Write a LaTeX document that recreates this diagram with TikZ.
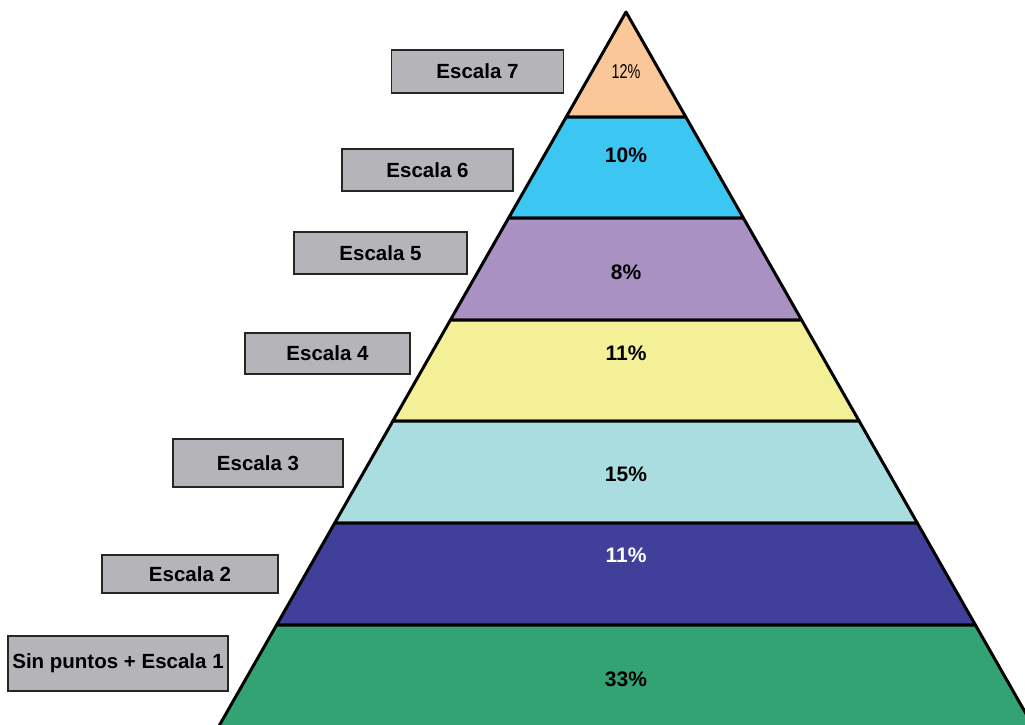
\documentclass[tikz,border=0pt]{standalone}
\usepackage{fontspec}
\usepackage{graphicx}
\usepackage{xcolor}
\setmainfont{Liberation Sans}
\usetikzlibrary{positioning}

\definecolor{peach}{RGB}{250,200,152}
\definecolor{skyband}{RGB}{60,198,242}
\definecolor{lilac}{RGB}{170,145,196}
\definecolor{paleyellow}{RGB}{243,240,152}
\definecolor{paleblue}{RGB}{170,221,224}
\definecolor{navyband}{RGB}{64,64,154}
\definecolor{greenband}{RGB}{51,163,116}
\definecolor{boxgray}{RGB}{181,181,185}

\begin{document}
\begin{tikzpicture}[
    x=1pt, y=-1pt,
    band/.style={draw=black, line width=3pt, line join=round},
    scalebox/.style={rectangle, draw=black!85, line width=1.6pt, fill=boxgray, inner sep=0pt, font=\fontsize{20.5}{22}\selectfont\bfseries},
    pct/.style={font=\fontsize{21}{22}\selectfont\bfseries}
]
\useasboundingbox (0,0) rectangle (1025,724);
\clip (0,0) rectangle (1025,724);

% Pyramid bands, top to bottom
\filldraw[band, fill=peach] (626,12) -- (685.8,117) -- (566.2,117) -- cycle;
\filldraw[band, fill=skyband] (566.2,117) -- (685.8,117) -- (743.4,218) -- (508.6,218) -- cycle;
\filldraw[band, fill=lilac] (508.6,218) -- (743.4,218) -- (801.6,320) -- (450.4,320) -- cycle;
\filldraw[band, fill=paleyellow] (450.4,320) -- (801.6,320) -- (859.1,421) -- (392.9,421) -- cycle;
\filldraw[band, fill=paleblue] (392.9,421) -- (859.1,421) -- (917.3,523) -- (334.7,523) -- cycle;
\filldraw[band, fill=navyband] (334.7,523) -- (917.3,523) -- (975.4,625) -- (276.6,625) -- cycle;
\filldraw[band, fill=greenband] (276.6,625) -- (975.4,625) -- (1041,740) -- (211,740) -- cycle;

% Percentages
\node (p7) at (626,72) {\fontsize{20}{22}\selectfont\scalebox{0.72}[1]{12\%}};
\node[pct] (p6) at (626,155) {10\%};
\node[pct] (p5) at (626,272) {8\%};
\node[pct] (p4) at (626,353) {11\%};
\node[pct] (p3) at (626,474) {15\%};
\node[pct, text=white] (p2) at (626,555) {11\%};
\node[pct] (p1) at (626,679) {33\%};

% Scale labels
\node[scalebox, minimum width=172pt, minimum height=43pt] (e7) at (477.5,71.5) {Escala 7};
\node[scalebox, minimum width=171pt, minimum height=42pt] (e6) at (427.5,170) {Escala 6};
\node[scalebox, minimum width=173pt, minimum height=42pt] (e5) at (380.5,253) {Escala 5};
\node[scalebox, minimum width=165pt, minimum height=41pt] (e4) at (327.5,353.5) {Escala 4};
\node[scalebox, minimum width=170pt, minimum height=48pt] (e3) at (258,463) {Escala 3};
\node[scalebox, minimum width=176pt, minimum height=38pt] (e2) at (190,574) {Escala 2};
\node[scalebox, minimum width=220pt, minimum height=55pt] (e1) at (118,663.5) {Sin puntos + Escala 1};

\end{tikzpicture}
\end{document}
